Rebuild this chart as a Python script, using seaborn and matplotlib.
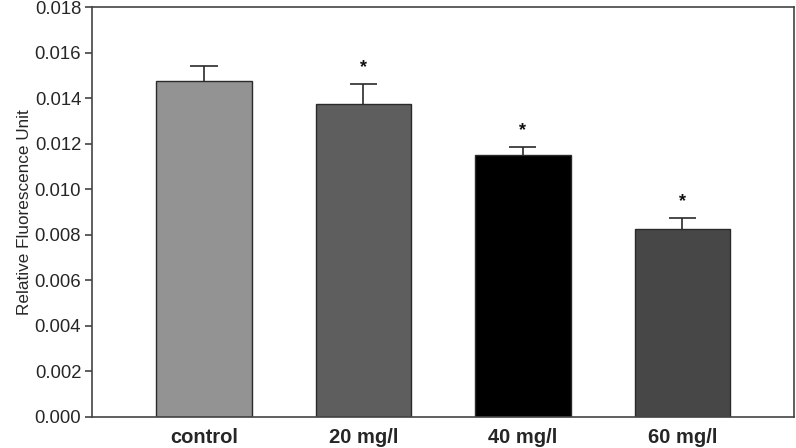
import matplotlib
matplotlib.use("Agg")
import matplotlib.pyplot as plt
import seaborn as sns
import numpy as np

categories = ["control", "20 mg/l", "40 mg/l", "60 mg/l"]
values = [0.01476, 0.01374, 0.01150, 0.00824]
errors = [0.00067, 0.00087, 0.00037, 0.00048]
significant = [False, True, True, True]
bar_colors = ["#939393", "#5e5e5e", "#000000", "#474747"]
yticks = [0.000, 0.002, 0.004, 0.006, 0.008, 0.010, 0.012, 0.014, 0.016, 0.018]

sns.set_style("white")
plt.rcParams['font.family'] = ['Liberation Sans', 'DejaVu Sans']

fig = plt.figure(figsize=(7.96, 4.48), dpi=100)
ax = fig.add_axes([0.116, 0.070, 0.8815, 0.914])

sns.barplot(x=categories, y=values, hue=categories, palette=bar_colors,
            width=0.6, edgecolor="#2a2a2a", linewidth=1.0, legend=False,
            ax=ax, errorbar=None)

xs = np.arange(len(categories))
tops = np.array(values) + np.array(errors)
ax.vlines(xs, values, tops, colors="#2a2a2a", linewidth=1.2, zorder=3)
ax.hlines(tops, xs - 0.085, xs + 0.085, colors="#2a2a2a", linewidth=1.2, zorder=3)

for x, t, s in zip(xs, tops, significant):
    if s:
        ax.text(x, t + 0.00035, "*", ha="center", va="bottom",
                fontsize=13, fontweight="bold", color="#111111")

ax.set_xlim(-0.7, 3.7)
ax.set_ylim(0, 0.018)
ax.set_yticks(yticks)
ax.set_yticklabels([f"{t:.3f}" for t in yticks], fontsize=13.3)
ax.set_xticks(xs)
ax.set_xticklabels(categories, fontsize=14.5, fontweight="bold")
ax.tick_params(axis="x", length=0, pad=8)
ax.tick_params(axis="y", left=True, length=5, width=1.1, color="#333333", pad=3)
ax.set_ylabel("Relative Fluorescence Unit", fontsize=12.3, labelpad=2)
ax.set_xlabel("")

for sp in ax.spines.values():
    sp.set_visible(True)
    sp.set_color("#444444")
    sp.set_linewidth(1.2)

fig.savefig("out.png", dpi=100)
